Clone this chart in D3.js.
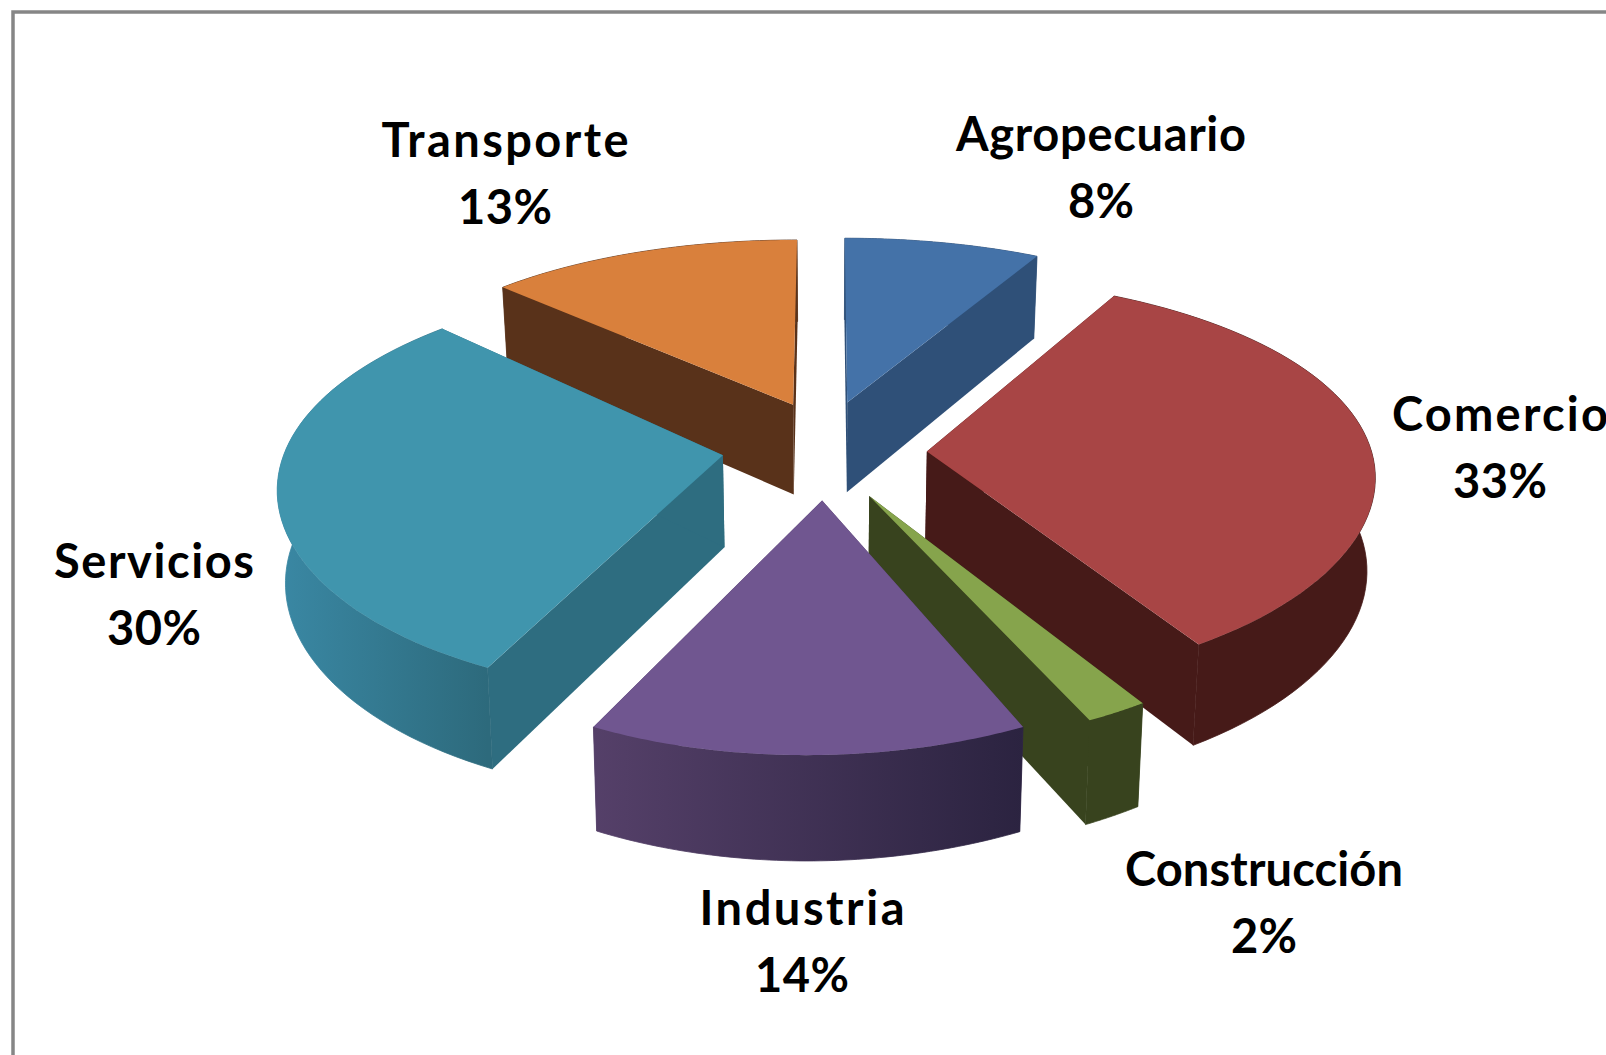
<!DOCTYPE html>
<html><head><meta charset="utf-8">
<script src="https://cdn.jsdelivr.net/npm/d3@7/dist/d3.min.js"></script>
<style>html,body{margin:0;padding:0;background:#fff;overflow:hidden}svg{display:block}</style>
</head><body><svg id="c" width="1606" height="1055"></svg>
<script>
const categories = ["Agropecuario","Comercio","Construcción","Industria","Servicios","Transporte"];
const values = [8,33,2,14,30,13];
const percentLabels = ["8%","33%","2%","14%","30%","13%"];
const topColors = ["#4472a8","#a84545","#86a44c","#705690","#4095ad","#d9803c"];
const wallColors = ["#2f5078","#461a18","#38431e","#4f3a63","#2e6d80","#59321a"];
const rimLeft = ["#2f5078","#461a18","#38431e","#554069","#3a88a4","#59321a"];
const rimRight = ["#2f5078","#461a18","#38431e","#2b2340","#2d6a7c","#59321a"];
const labelX = [1101,1500,1264,802,154,505];
const labelY = [151,431,886,925,578,157];
const nameWidth = [290,216,278,205,200,247];
const pctWidth = [66,94,66,94,94,94];
const nudgeX = [2,0,-3,7,11,16];
const nudgeY = [0,5,4,2,-2,0];
const shear = [0,0,0,0.036,0.04,0];
const lineGap = 67;
const paintOrder = [0,5,1,4,2,3];

const cx=819, cy=448, R=445, PX=0.105, PY=0.147, QL=0.012, K=0.451, EXPLODE=108, DEPTH=92, TAPER=0.015;
const svg=d3.select("#c");
const defs=svg.append("defs");
svg.append("rect").attr("x",13).attr("y",12).attr("width",1700).attr("height",1200)
  .attr("fill","#fff").attr("stroke","#868686").attr("stroke-width",3.5);

const arcs=d3.pie().sort(null).value(d=>d)(values);
function proj(a,r,ex,mid,h,i){
  const X=r*Math.sin(a)+ex*Math.sin(mid), Z=r*Math.cos(a)+ex*Math.cos(mid);
  const s=1/(1+PX*Z/R-QL*Math.min(X,0)/R), sy=1/(1+PY*Z/R);
  return [cx+X*s*(1-TAPER*h/DEPTH)+nudgeX[i]+shear[i]*Z, cy-K*Z*sy+h*s+nudgeY[i]];
}
const line=d3.line();
paintOrder.forEach(i=>{
  const d=arcs[i], a0=d.startAngle, a1=d.endAngle, mid=(a0+a1)/2;
  const rim=d3.range(0,61).map(j=>a0+(a1-a0)*j/60);
  const top=rim.map(a=>proj(a,R,EXPLODE,mid,0,i));
  const bot=rim.map(a=>proj(a,R,EXPLODE,mid,DEPTH,i));
  const apexT=proj(0,0,EXPLODE,mid,0,i), apexB=proj(0,0,EXPLODE,mid,DEPTH,i);
  const xs=top.map(p=>p[0]);
  const gid="g"+i;
  const g=defs.append("linearGradient").attr("id",gid).attr("gradientUnits","userSpaceOnUse")
    .attr("x1",d3.min(xs)).attr("x2",d3.max(xs)).attr("y1",0).attr("y2",0);
  g.append("stop").attr("offset",0).attr("stop-color",rimLeft[i]);
  g.append("stop").attr("offset",1).attr("stop-color",rimRight[i]);
  const G=svg.append("g").attr("class","slice");
  G.append("path").attr("d",line([apexT,top[0],bot[0],apexB])+"Z").attr("fill",wallColors[i]);
  G.append("path").attr("d",line([apexT,top[60],bot[60],apexB])+"Z").attr("fill",wallColors[i]);
  G.append("path").attr("d",line(top.concat(bot.slice().reverse()))+"Z").attr("fill","url(#"+gid+")")
    .attr("stroke","url(#"+gid+")").attr("stroke-width",0.8);
  G.append("path").attr("d",line([apexT].concat(top))+"Z").attr("fill",topColors[i]);
});
categories.forEach((c,i)=>{
  const t=svg.append("text").attr("text-anchor","middle").attr("font-family","Lato")
    .attr("font-weight","700").attr("font-size",47).attr("fill","#000");
  t.append("tspan").attr("x",labelX[i]).attr("y",labelY[i]).attr("textLength",nameWidth[i]).text(c);
  t.append("tspan").attr("x",labelX[i]).attr("y",labelY[i]+lineGap).attr("textLength",pctWidth[i]).text(percentLabels[i]);
});
</script></body></html>
